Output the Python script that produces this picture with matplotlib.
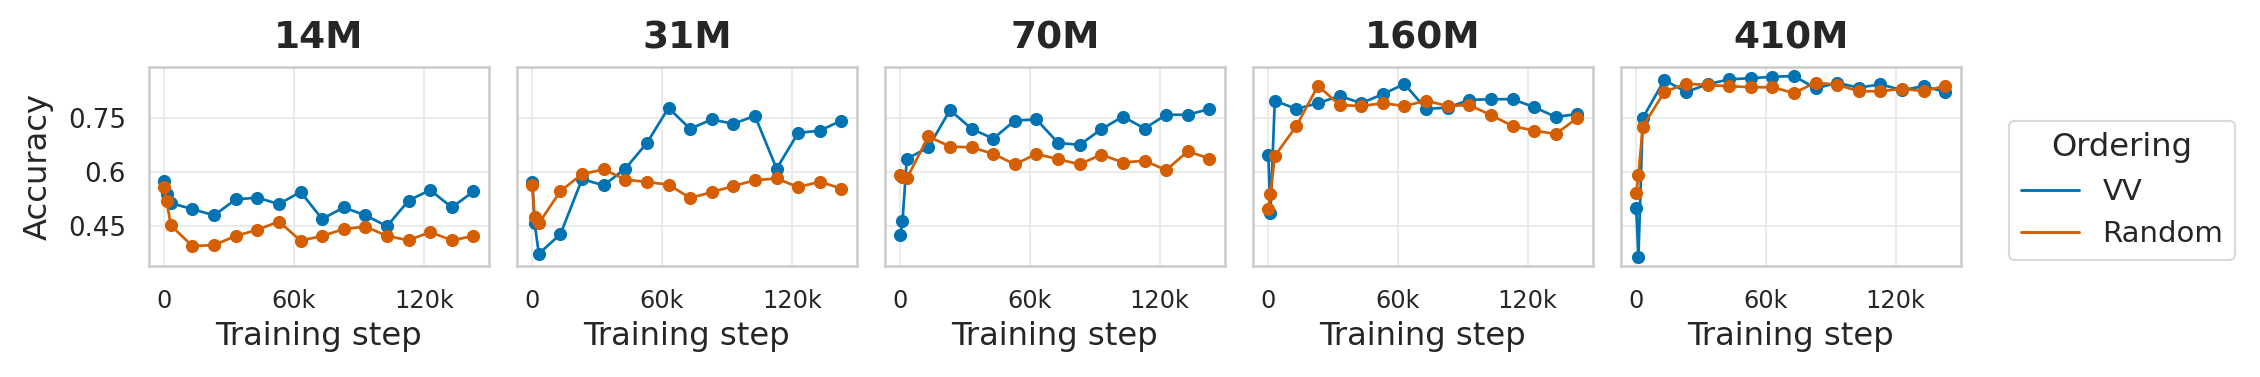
import matplotlib
matplotlib.use("Agg")
import matplotlib.pyplot as plt
from matplotlib.lines import Line2D
import seaborn as sns

sns.set_theme(style="whitegrid")
plt.rcParams['font.family'] = ['DejaVu Sans']

# checkpoints (training step)
steps = [0, 1000, 3000, 13000, 23000, 33000, 43000, 53000, 63000,
         73000, 83000, 93000, 103000, 113000, 123000, 133000, 143000]

models = ["14M", "31M", "70M", "160M", "410M"]

# accuracy per model, VV ordering
vv_14m = [0.576, 0.538, 0.514, 0.497, 0.480, 0.524, 0.529, 0.511, 0.545,
          0.470, 0.502, 0.480, 0.450, 0.521, 0.550, 0.502, 0.546]
vv_31m = [0.573, 0.460, 0.374, 0.428, 0.580, 0.563, 0.609, 0.680, 0.777,
          0.719, 0.745, 0.733, 0.755, 0.609, 0.708, 0.714, 0.742]
vv_70m = [0.425, 0.464, 0.636, 0.668, 0.771, 0.719, 0.692, 0.742, 0.745,
          0.680, 0.675, 0.718, 0.753, 0.720, 0.758, 0.758, 0.774]
vv_160m = [0.648, 0.486, 0.797, 0.774, 0.790, 0.810, 0.790, 0.815, 0.843,
           0.774, 0.778, 0.799, 0.801, 0.801, 0.779, 0.752, 0.760]
vv_410m = [0.499, 0.365, 0.749, 0.854, 0.821, 0.842, 0.856, 0.859, 0.863,
           0.865, 0.831, 0.846, 0.833, 0.842, 0.826, 0.837, 0.821]

# accuracy per model, random ordering
rand_14m = [0.559, 0.520, 0.452, 0.395, 0.398, 0.423, 0.440, 0.463, 0.410,
            0.423, 0.442, 0.449, 0.423, 0.411, 0.434, 0.411, 0.423]
rand_31m = [0.563, 0.475, 0.458, 0.547, 0.594, 0.607, 0.579, 0.572, 0.565,
            0.528, 0.544, 0.561, 0.577, 0.582, 0.558, 0.573, 0.554]
rand_70m = [0.591, 0.586, 0.582, 0.698, 0.670, 0.668, 0.650, 0.621, 0.650,
            0.635, 0.621, 0.648, 0.626, 0.631, 0.605, 0.657, 0.637]
rand_160m = [0.498, 0.538, 0.644, 0.727, 0.838, 0.785, 0.782, 0.790, 0.782,
             0.797, 0.782, 0.785, 0.757, 0.727, 0.714, 0.705, 0.749]
rand_410m = [0.541, 0.591, 0.725, 0.821, 0.844, 0.840, 0.837, 0.834, 0.834,
             0.818, 0.847, 0.841, 0.823, 0.823, 0.830, 0.823, 0.838]

vv_all = [vv_14m, vv_31m, vv_70m, vv_160m, vv_410m]
rand_all = [rand_14m, rand_31m, rand_70m, rand_160m, rand_410m]

blue = "#0173B2"
orange = "#D55E00"
text_col = "#262626"

fig, axes = plt.subplots(1, 5, figsize=(2260/150, 377/150), dpi=150, sharey=True)
fig.subplots_adjust(left=0.0659, right=0.8676, top=0.8223, bottom=0.2944, wspace=0.0824)

for i, ax in enumerate(axes):
    ax.plot(steps, vv_all[i], color=blue, lw=1.3, marker="o", markersize=5.3)
    ax.plot(steps, rand_all[i], color=orange, lw=1.3, marker="o", markersize=5.3)
    ax.set_title(models[i], fontsize=18, fontweight="bold", color=text_col, pad=9)
    ax.set_xlabel("Training step", fontsize=15.5, color=text_col)
    ax.set_xticks([0, 60000, 120000])
    ax.set_xticklabels(["0", "60k", "120k"])
    ax.set_yticks([0.45, 0.6, 0.75])
    ax.set_yticklabels(["0.45", "0.6", "0.75"])
    ax.tick_params(axis="x", labelsize=11.5, length=0, pad=11, colors=text_col)
    ax.tick_params(axis="y", labelsize=12.5, length=0, pad=11, colors=text_col)
    ax.grid(True, color="#ebebeb", lw=1)
    for s in ax.spines.values():
        s.set_color("#cccccc")
        s.set_linewidth(1.25)

axes[0].set_ylabel("Accuracy", fontsize=15.5, color=text_col, labelpad=7)

handles = [Line2D([0], [0], color=blue, lw=1.4),
           Line2D([0], [0], color=orange, lw=1.4)]
leg = fig.legend(handles, ["VV", "Random"], title="Ordering", loc="center",
                 bbox_to_anchor=(0.939, 0.495), fontsize=14, title_fontsize=15.5,
                 frameon=True, fancybox=True, edgecolor="#d0d0d0")
for t in leg.get_texts():
    t.set_color(text_col)
leg.get_title().set_color(text_col)

fig.savefig("out.png", dpi=150)
